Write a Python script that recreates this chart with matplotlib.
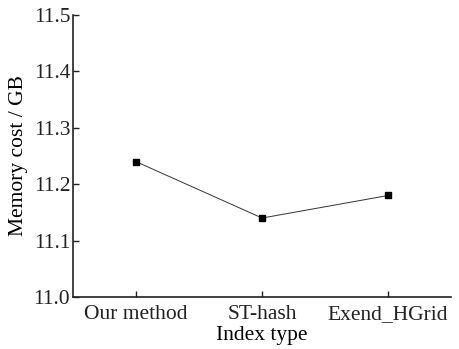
import numpy as np
import matplotlib
matplotlib.use("Agg")
import matplotlib.pyplot as plt

plt.rcParams['font.family'] = ['Liberation Serif', 'DejaVu Serif']

# data
index_types = ['Our method', 'ST-hash', 'Exend_HGrid']
memory_gb = [11.24, 11.14, 11.18]
yticks = [11.0, 11.1, 11.2, 11.3, 11.4, 11.5]

fig = plt.figure(figsize=(4.59, 3.49), dpi=100)
ax = fig.add_axes([0.159, 0.149, 0.824, 0.808])

x = np.arange(len(index_types))
ax.plot(x, memory_gb, color='#333333', lw=0.7, marker='s', ms=4,
        mfc='black', mec='black')

ax.set_xlim(-0.5, 2.5)
ax.set_ylim(11.0, 11.5)
ax.set_xticks(x)
ax.set_xticklabels(index_types)
ax.set_yticks(yticks)
ax.set_yticklabels(['{:.1f}'.format(v) for v in yticks])

for s in ['top', 'right']:
    ax.spines[s].set_visible(False)
for s in ['left', 'bottom']:
    ax.spines[s].set_linewidth(1.2)
    ax.spines[s].set_color('#222222')

ax.tick_params(direction='in', length=4, width=1.0, labelsize=15.5,
               colors='#222222')
ax.tick_params(axis='x', pad=6)
ax.tick_params(axis='y', pad=2)
ax.set_xlabel('Index type', fontsize=15.5, labelpad=1.5)
ax.set_ylabel('Memory cost / GB', fontsize=15.5, labelpad=4)

fig.savefig('out.png', dpi=100)
